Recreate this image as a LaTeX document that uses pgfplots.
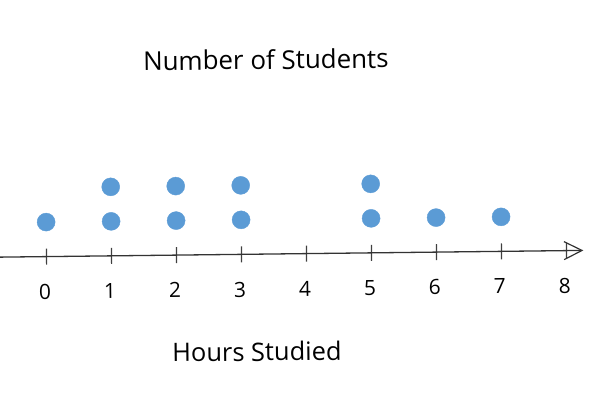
\documentclass[border=0pt]{standalone}
\usepackage{fontspec}
\setmainfont{Open Sans}
\usepackage{pgfplots}
\pgfplotsset{compat=1.18}
\usetikzlibrary{arrows.meta,calc}
\definecolor{dotblue}{RGB}{91,155,213}
\begin{document}
\begin{tikzpicture}
\begin{scope}[rotate=0.66]
\begin{axis}[
  anchor=origin, at={(0,0)},
  x=65bp, y=34.5bp,
  xmin=-0.74, xmax=8.26,
  ymin=-4, ymax=7,
  axis x line=middle, axis y line=none,
  x axis line style={-{Straight Barb[length=18bp,width=18bp,line width=1.2bp]}, line width=1.3bp, draw=black!80},
  xtick={0,1,2,3,4,5,6,7,8},
  major tick length=16bp,
  tick align=center,
  tick style={line width=1.2bp, draw=black!75},
  /pgf/number format/assume math mode=true,
  xticklabel style={font=\fontsize{21}{25}\selectfont, text=black, yshift=-16bp, xshift=-2bp},
  clip=false,
]
\addplot[only marks, mark=*, mark size=9bp, color=dotblue]
  coordinates {(0,1) (1,1) (1,2) (2,1) (2,2) (3,1) (3,2) (5,1) (5,2) (6,1) (7,1)};
\coordinate (o) at (axis cs:0,0);
\node[font=\fontsize{26}{31}\selectfont] at (axis cs:3.41,5.64) {Number of Students};
\node[font=\fontsize{25.5}{30}\selectfont] at (axis cs:3.22,-2.82) {Hours Studied};
\end{axis}
\end{scope}
\pgfresetboundingbox
\path[use as bounding box] ($(o)+(-47.8bp,-138.85bp)$) rectangle ++(600bp,396bp);
\end{tikzpicture}
\end{document}
